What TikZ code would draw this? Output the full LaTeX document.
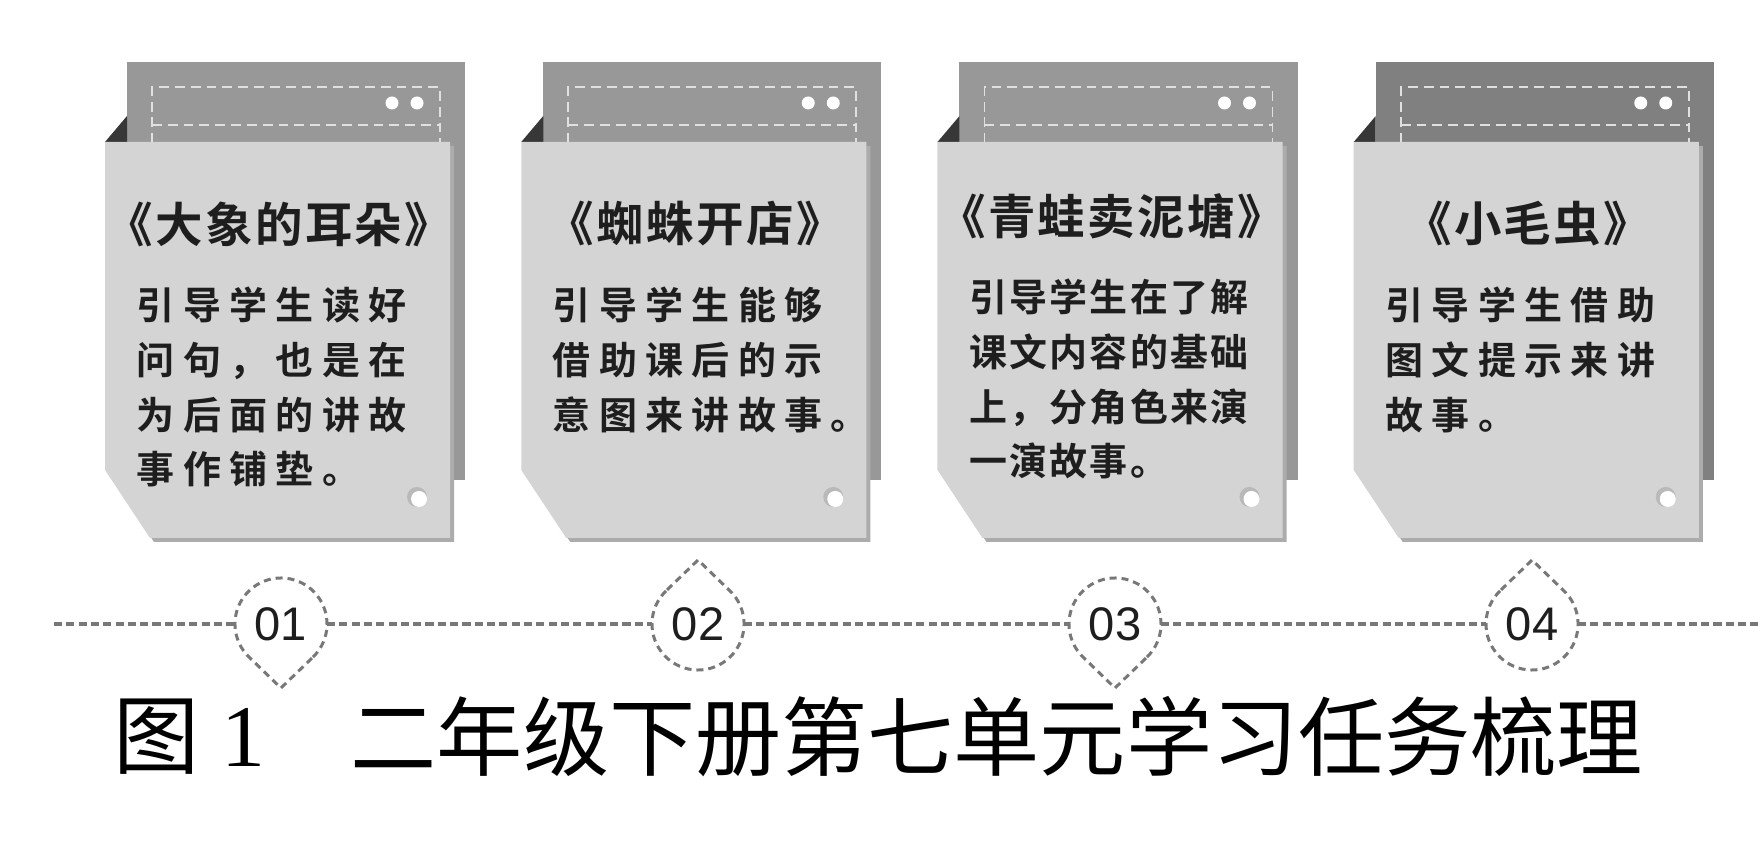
\documentclass[tikz,border=0pt]{standalone}
\usepackage{fontspec}
\usepackage{tikz}
\usepackage{xcolor}
\setmainfont{Liberation Sans}
\newfontfamily\serifdigit{Liberation Serif}
\newfontfamily\capfont{Noto Sans CJK SC}
\newfontfamily\titlefont{Noto Sans CJK SC Bold}[LetterSpace=5]
\newfontfamily\bodyfont{Noto Sans CJK SC Bold}[LetterSpace=22]
\newfontfamily\bodyfontnarrow{Noto Sans CJK SC Bold}[LetterSpace=6]
\definecolor{sheetgray}{RGB}{152,152,152}
\definecolor{sheetdark}{RGB}{128,128,128}
\definecolor{pagegray}{RGB}{212,212,212}
\definecolor{shadowgray}{RGB}{172,172,172}
\definecolor{foldgray}{RGB}{55,55,55}
\definecolor{stitchgray}{RGB}{224,224,224}
\definecolor{linegray}{RGB}{120,120,120}
\definecolor{inkgray}{RGB}{30,30,30}

\begin{document}
\begin{tikzpicture}[x=0.01cm, y=0.01cm,
    stitch/.style={stitchgray, line width=0.55pt, dash pattern=on 2.8pt off 1.7pt},
    timeline/.style={linegray, line width=1pt, dash pattern=on 2.3pt off 1.2pt},
    dropline/.style={linegray, line width=0.85pt, dash pattern=on 2pt off 1.4pt},
    numnode/.style={circle, minimum size=0.92cm, inner sep=0pt, outer sep=0pt, text=inkgray, font=\fontsize{13.4}{13.4}\selectfont},
    titletext/.style={text=inkgray, inner sep=0pt, font=\titlefont\fontsize{13.5}{13.5}\selectfont},
    bodytext/.style={text=inkgray, inner sep=0pt, align=left, anchor=north west},
    captext/.style={inner sep=0pt, text=black, font=\capfont\fontsize{24.5}{24.5}\selectfont}]
    \fill[white] (0,0) rectangle (1761,864);
    \useasboundingbox (0,0) rectangle (1761,864);

    \foreach \k/\bk/\dy/\fnt/\ttl/\txt in {
        0/sheetgray/0/\bodyfont/{《大象的耳朵》}/{引导学生读好\\问句，也是在\\为后面的讲故\\事作铺垫。},
        1/sheetgray/0/\bodyfont/{《蜘蛛开店》}/{引导学生能够\\借助课后的示\\意图来讲故事。},
        2/sheetgray/8/\bodyfontnarrow/{《青蛙卖泥塘》}/{引导学生在了解\\课文内容的基础\\上，分角色来演\\一演故事。},
        3/sheetdark/0/\bodyfont/{《小毛虫》}/{引导学生借助\\图文提示来讲\\故事。}}{
    \begin{scope}[xshift=\k*4.16cm]
        \fill[\bk] (127,384) rectangle (465,802);
        \draw[stitch] (152,705) rectangle (440,777);
        \draw[stitch] (152,739) -- (440,739);
        \fill[white] (392,761) circle (6.5) (417,761) circle (6.5);
        \fill[foldgray] (105,722) -- (127,748) -- (127,722) -- cycle;
        \fill[shadowgray] (109,718) -- (454,718) -- (454,322) -- (154,322) -- (109,390) -- cycle;
        \fill[pagegray] (105,722) -- (450,722) -- (450,326) -- (150,326) -- (105,394) -- cycle;
        \fill[gray!55] (417,367) circle (10);
        \fill[white] (419,365) circle (8);
        \node[titletext] (title\k) at (279,{640+\dy}) {\ttl};
        \node[bodytext, font=\fnt\fontsize{10.8}{15.6}\selectfont] (body\k) at (136,{578+\dy}) {\txt};
    \end{scope}
    }

    \foreach \k/\num in {1/01,2/02,3/03,4/04}
        \node[numnode] (m\k) at ({281+417*(\k-1)},240) {\num};
    \coordinate (t1) at (281,176);
    \coordinate (t2) at (698,304);
    \coordinate (t3) at (1115,176);
    \coordinate (t4) at (1532,304);
    \coordinate (lstart) at (54,240);
    \coordinate (lend) at (1761,240);

    \draw[dropline] (m1.-46) arc[start angle=-46, end angle=226, radius=0.46cm] -- (t1) -- cycle;
    \draw[dropline] (m2.134) arc[start angle=134, end angle=406, radius=0.46cm] -- (t2) -- cycle;
    \draw[dropline] (m3.-46) arc[start angle=-46, end angle=226, radius=0.46cm] -- (t3) -- cycle;
    \draw[dropline] (m4.134) arc[start angle=134, end angle=406, radius=0.46cm] -- (t4) -- cycle;

    \draw[timeline] (lstart) -- (m1);
    \draw[timeline] (m1) -- (m2);
    \draw[timeline] (m2) -- (m3);
    \draw[timeline] (m3) -- (m4);
    \draw[timeline] (m4) -- (lend);

    \node[captext] (capfig) at (157,127) {图};
    \node[inner sep=0pt, font=\serifdigit\fontsize{25}{25}\selectfont] (capnum) at (243,127) {1};
    \node[captext, anchor=west] (capline) at (350,127) {二年级下册第七单元学习任务梳理};
\end{tikzpicture}
\end{document}
